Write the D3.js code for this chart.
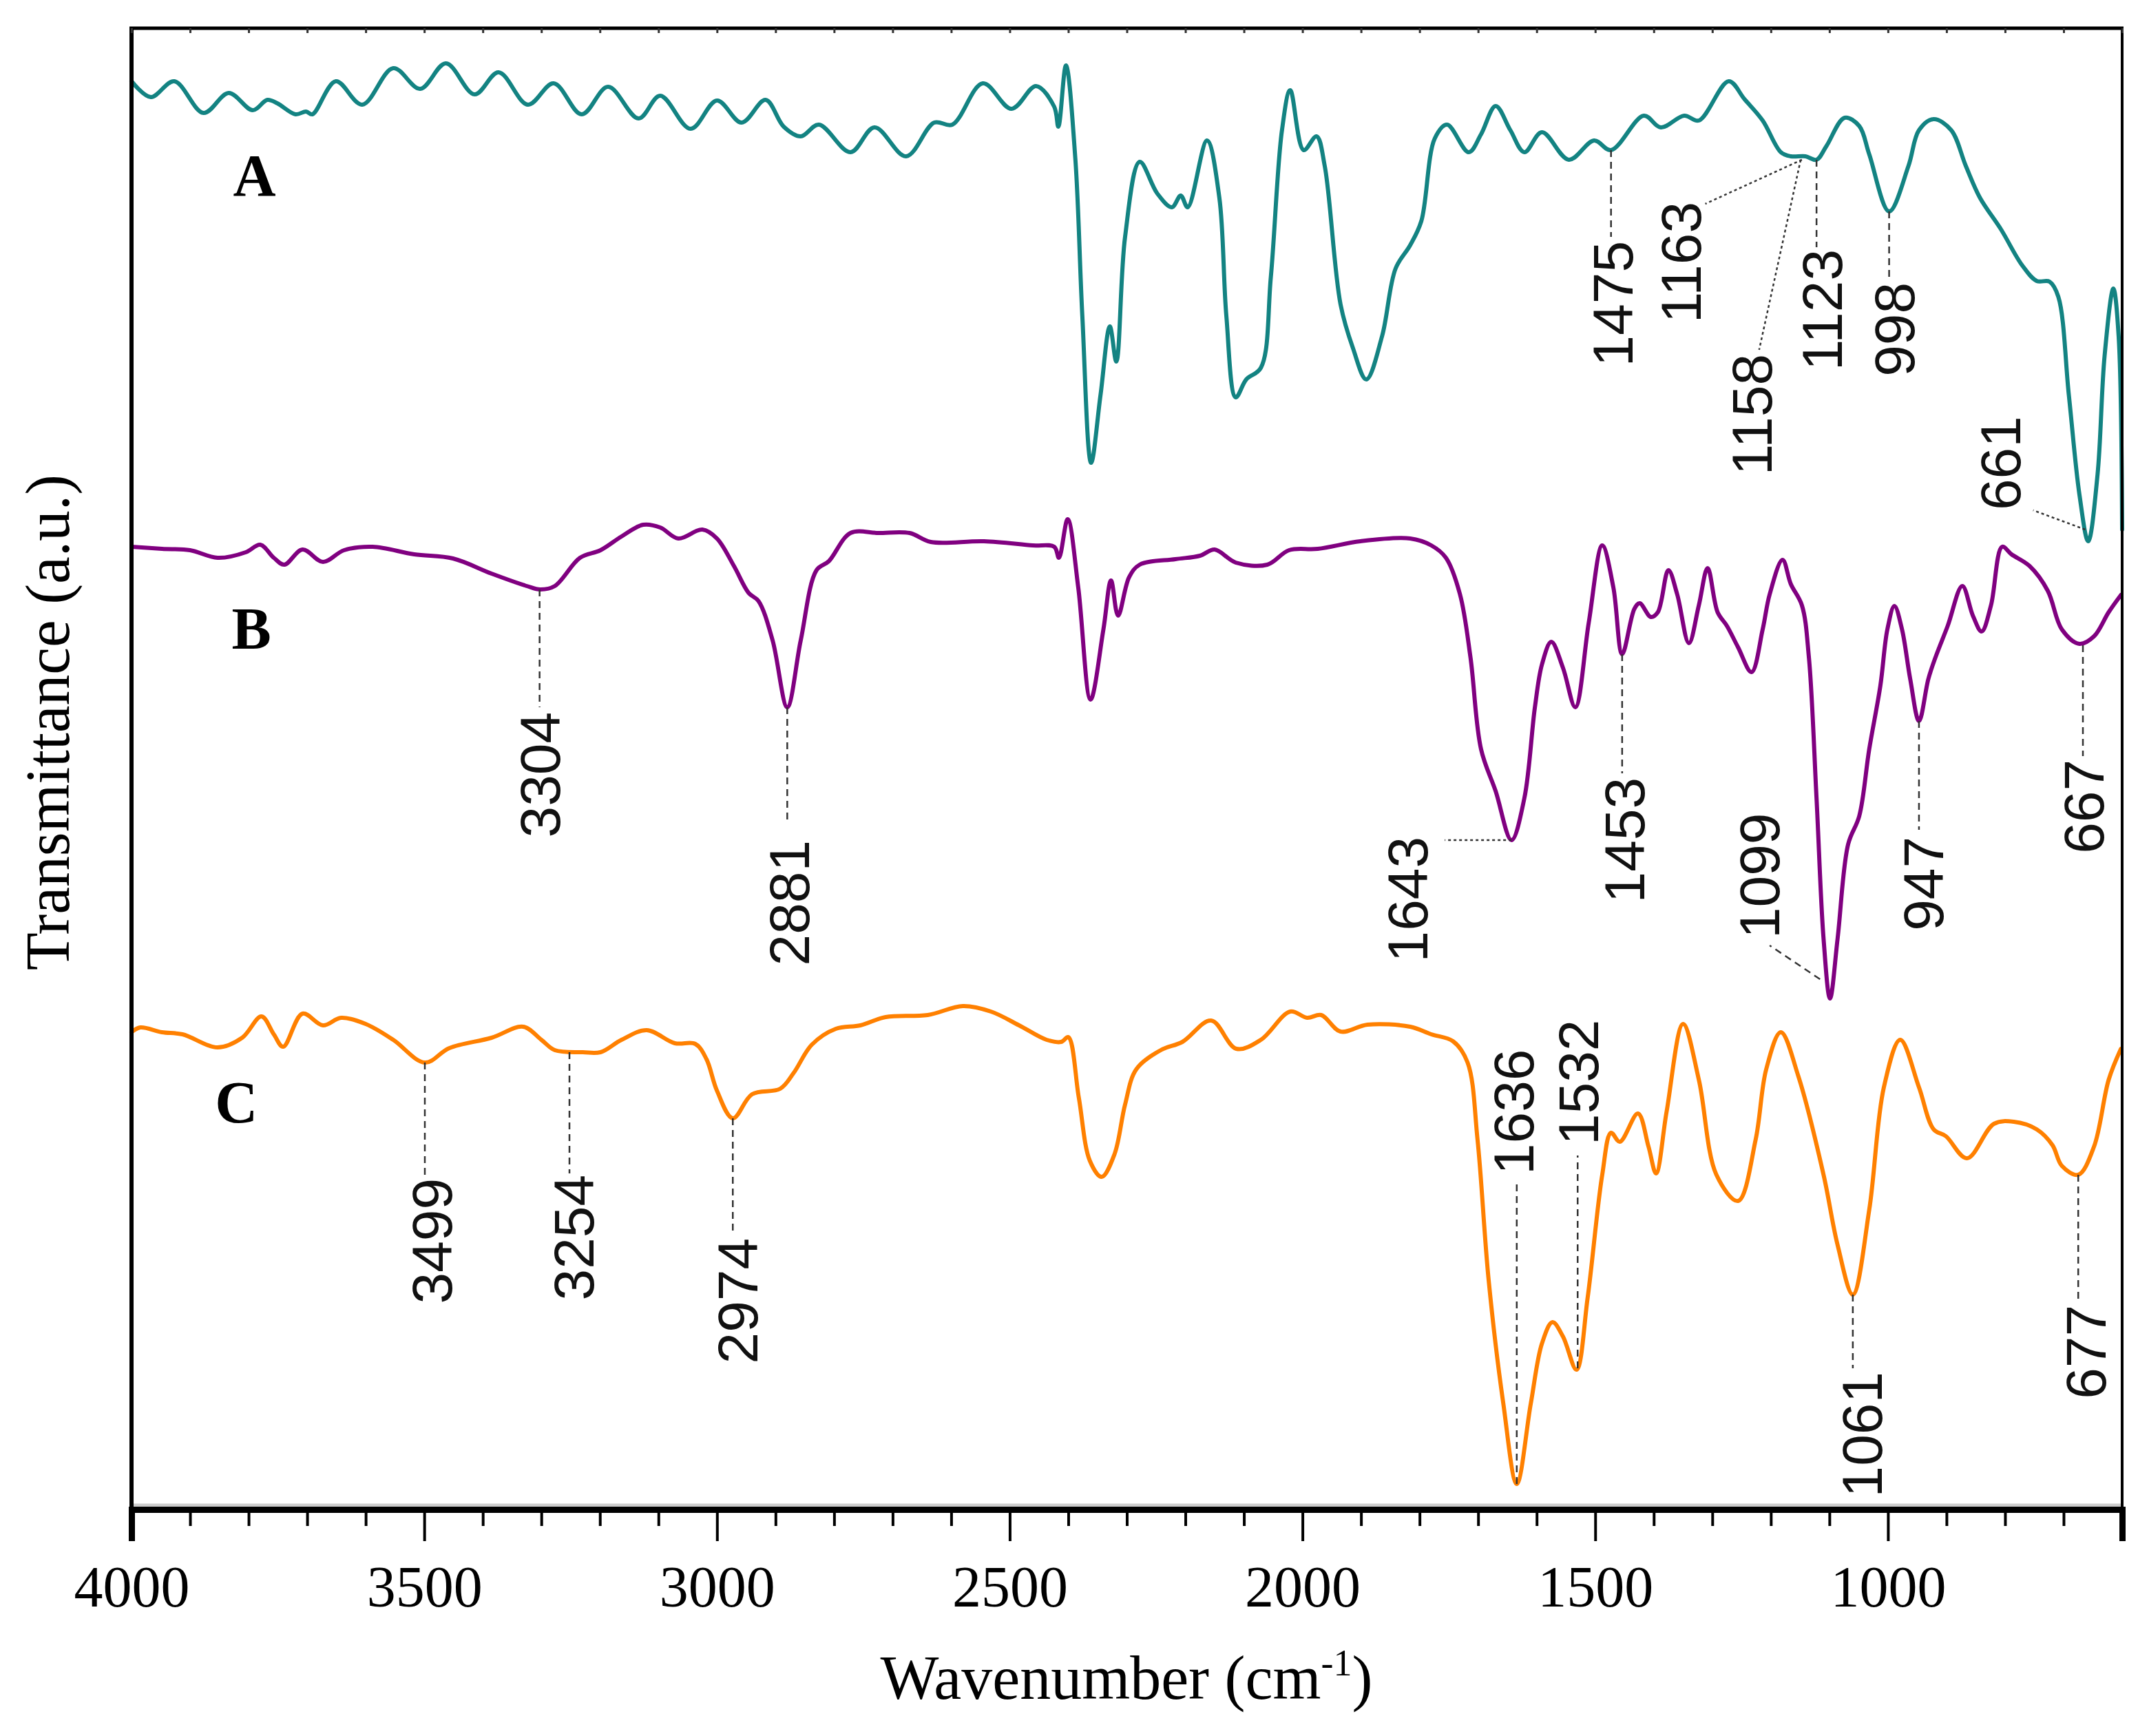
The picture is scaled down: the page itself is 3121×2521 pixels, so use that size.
<!DOCTYPE html>
<html><head><meta charset="utf-8">
<script src="https://cdn.jsdelivr.net/npm/d3@7"></script>
<style>body{margin:0;background:#fff}</style>
</head><body><svg id="chart" width="3121" height="2521"></svg>
<script>
// ---- data (wavenumber, cm-1 ; transmittance, a.u., curves offset) ----
const wnA = [4000,3967,3927,3877,3834,3793,3768,3751,3720,3702,3691,3651,3606,3553,3507,3463,3414,3373,3323,3279,3231,3186,3134,3097,3045,3000,2958,2917,2886,2857,2826,2772,2731,2677,2629,2598,2546,2497,2455,2424,2417,2404,2388,2376,2361,2345,2329,2318,2303,2278,2248,2223,2208,2196,2163,2142,2130,2114,2096,2071,2054,2035,2021,1998,1976,1962,1935,1914,1891,1864,1841,1816,1797,1774,1753,1716,1695,1670,1645,1621,1591,1545,1502,1473,1417,1388,1348,1323,1272,1245,1214,1183,1166,1141,1122,1105,1074,1049,1032,998,965,947,922,892,867,843,807,771,746,724,709,691,673,658,642,630,615,606,600];
const tA = [207.4,205.1,207.4,202.8,205.7,203.2,204.7,204.2,202.6,203.0,202.6,207.4,204.0,209.3,206.3,210.0,205.5,208.7,204.0,207.1,202.6,206.6,202.0,205.3,200.5,204.6,201.4,204.7,200.8,199.4,201.1,197.1,200.7,196.5,201.4,201.1,207.1,203.4,206.7,203.7,200.8,209.7,196.2,173.3,152.0,161.8,171.8,166.7,184.8,195.7,191.1,189.1,190.8,189.1,198.8,190.5,173.3,161.5,164.1,165.8,179.0,200.3,206.1,197.4,199.4,195.1,175.0,168.7,164.1,170.4,180.2,183.6,187.1,199.1,201.1,197.1,199.7,203.8,200.3,197.1,200.0,196.0,198.8,197.4,202.4,200.7,202.4,201.7,207.4,204.8,201.7,197.1,196.5,196.5,196.0,198.0,202.1,200.9,196.8,188.5,195.1,200.3,201.9,200.3,195.1,190.5,185.9,180.7,178.4,178.3,176.1,161.8,147.4,140.6,150.3,167.5,177.3,170.4,142.3];

const wnB = [4000,3948,3900,3853,3805,3780,3757,3739,3708,3673,3637,3588,3517,3451,3385,3325,3302,3277,3234,3199,3163,3126,3097,3066,3025,3000,2971,2946,2929,2905,2880,2857,2830,2809,2772,2724,2671,2635,2544,2461,2424,2416,2401,2383,2362,2340,2327,2315,2296,2278,2217,2175,2150,2114,2060,2023,1974,1901,1816,1780,1755,1731,1713,1695,1670,1643,1621,1603,1591,1575,1555,1534,1511,1488,1469,1454,1433,1424,1405,1393,1375,1360,1340,1323,1308,1291,1275,1256,1233,1214,1202,1180,1166,1147,1135,1122,1110,1099,1086,1068,1049,1032,1013,1001,989,976,962,947,931,919,898,873,855,840,824,805,789,758,727,703,673,648,623,602];
const tB = [139.8,139.5,139.3,138.2,139.0,140.1,138.2,137.2,139.4,137.6,139.3,139.8,138.7,138.1,135.9,134.1,133.6,134.1,138.2,139.3,141.3,143.0,142.6,141.0,142.3,141.0,137.0,133.1,131.9,126.2,116.5,126.2,136.4,137.7,141.8,141.8,141.8,140.5,140.6,140.0,139.8,138.2,143.8,133.9,117.6,127.8,134.9,129.8,135.4,137.2,138.0,138.5,139.4,137.5,137.2,139.3,139.5,140.6,141.0,140.0,138.2,132.9,123.7,110.4,104.3,97.2,103.3,116.5,122.7,126.0,122.2,116.5,128.8,140.0,133.9,124.2,130.8,131.6,129.6,130.3,136.4,132.9,125.8,131.3,136.7,130.3,128.3,125.2,121.6,127.8,132.9,137.9,134.4,131.3,123.7,103.3,82.9,74.2,82.9,96.6,100.7,110.4,119.6,127.8,131.2,127.8,120.6,114.5,120.6,123.7,128.3,134.1,129.8,127.5,131.3,139.8,138.7,137.0,133.4,127.8,125.7,126.8,130.3,132.8];

const wnC = [4000,3985,3948,3913,3853,3811,3778,3757,3741,3708,3673,3642,3600,3553,3499,3457,3385,3331,3300,3277,3229,3199,3163,3120,3072,3037,3018,3000,2973,2940,2892,2869,2838,2797,2755,2712,2640,2580,2532,2484,2437,2412,2400,2382,2363,2343,2321,2303,2284,2242,2205,2156,2113,2071,2021,1992,1968,1935,1889,1816,1780,1743,1718,1701,1682,1657,1634,1610,1591,1573,1555,1532,1513,1488,1473,1458,1427,1409,1396,1378,1350,1323,1293,1256,1226,1208,1183,1153,1110,1086,1060,1032,1007,979,947,922,901,865,819,785,746,719,703,675,648,623,602];
const tC = [69.3,70.0,69.3,69.0,67.1,68.5,71.6,69.0,67.2,72.0,70.3,71.4,70.5,68.2,64.9,67.0,68.5,70.1,68.2,66.7,66.4,66.4,68.2,69.6,67.7,67.6,65.4,60.8,56.8,60.3,61.1,63.4,67.5,69.8,70.3,71.5,71.8,73.1,72.3,70.3,68.2,67.9,68.6,59.8,50.6,48.3,51.6,58.8,63.9,66.7,67.9,71.0,66.9,68.2,72.3,71.4,71.8,69.4,70.4,70.1,69.0,68.0,64.9,53.7,33.3,15.4,3.7,15.4,24.1,27.2,25.1,20.3,30.7,48.6,54.7,53.4,57.5,52.7,48.8,57.8,70.5,62.4,48.6,44.8,53.7,63.9,69.3,62.9,48.6,38.4,31.2,43.5,61.3,68.2,61.3,55.2,54.2,51.0,56.0,56.3,55.2,52.9,49.9,48.6,52.7,62.4,66.9];

const seriesNames = ["A","B","C"];
const seriesColors = ["#138382","#800080","#ff8000"];
const majorTicks = [4000,3500,3000,2500,2000,1500,1000];
const minorTicks = d3.range(4000, 599, -100);

// peak annotations (all in data units)
const annotations = [
  {s:"A",label:"1475",x0:1473,y0:197.4,x1:1473,y1:184.8,tx:1471,ty:184.2,anchor:"end",dot:false},
  {s:"A",label:"1163",x0:1147,y0:196.0,x1:1312,y1:189.6,tx:1354,ty:189.9,anchor:"end",dot:true},
  {s:"A",label:"1158",x0:1149,y0:196.0,x1:1220,y1:168.4,tx:1233,ty:167.8,anchor:"end",dot:true},
  {s:"A",label:"1123",x0:1122,y0:196.0,x1:1122,y1:183.3,tx:1113,ty:183.0,anchor:"end",dot:false},
  {s:"A",label:"998",x0:998,y0:188.5,x1:998,y1:178.4,tx:990,ty:178.2,anchor:"end",dot:false},
  {s:"A",label:"661",x0:663,y0:142.3,x1:752,y1:145.1,tx:809,ty:145.1,anchor:"start",dot:true},
  {s:"B",label:"3304",x0:3303,y0:133.6,x1:3303,y1:116.5,tx:3303,ty:115.8,anchor:"end",dot:false},
  {s:"B",label:"2881",x0:2880,y0:116.5,x1:2880,y1:100.0,tx:2878,ty:97.2,anchor:"end",dot:false},
  {s:"B",label:"1643",x0:1643,y0:97.2,x1:1757,y1:97.2,tx:1821,ty:97.7,anchor:"end",dot:true},
  {s:"B",label:"1453",x0:1454,y0:124.2,x1:1454,y1:106.9,tx:1451,ty:106.3,anchor:"end",dot:false},
  {s:"B",label:"1099",x0:1116,y0:77.0,x1:1202,y1:81.9,tx:1220,ty:82.9,anchor:"start",dot:false},
  {s:"B",label:"947",x0:947,y0:114.5,x1:947,y1:98.7,tx:940,ty:97.7,anchor:"end",dot:false},
  {s:"B",label:"667",x0:667,y0:125.5,x1:667,y1:109.4,tx:667,ty:108.9,anchor:"end",dot:false},
  {s:"C",label:"3499",x0:3499,y0:64.9,x1:3499,y1:48.6,tx:3488,ty:48.1,anchor:"end",dot:false},
  {s:"C",label:"3254",x0:3252,y0:66.4,x1:3252,y1:48.8,tx:3246,ty:48.6,anchor:"end",dot:false},
  {s:"C",label:"2974",x0:2973,y0:56.8,x1:2973,y1:39.9,tx:2966,ty:39.4,anchor:"end",dot:false},
  {s:"C",label:"1636",x0:1634,y0:3.7,x1:1634,y1:47.6,tx:1640,ty:48.6,anchor:"start",dot:false},
  {s:"C",label:"1532",x0:1530,y0:20.5,x1:1530,y1:51.4,tx:1530,ty:52.9,anchor:"start",dot:false},
  {s:"C",label:"1061",x0:1060,y0:31.2,x1:1060,y1:20.5,tx:1045,ty:20.0,anchor:"end",dot:false},
  {s:"C",label:"677",x0:675,y0:48.6,x1:675,y1:30.2,tx:663,ty:29.7,anchor:"end",dot:false}
];
// series letter positions (data units)
const letterPos = [{s:"A",wn:3790,t:190.8},{s:"B",wn:3795,t:125.0},{s:"C",wn:3821,t:56.2}];

// ---- layout ----
const L = 191, R = 3082, T = 41, B = 2192;
const x = d3.scaleLinear().domain([4000, 600]).range([L, R]);
const y = d3.scaleLinear().domain([0, 215.1]).range([B, T]);
const svg = d3.select("#chart");

// curves
const series = [[wnA,tA],[wnB,tB],[wnC,tC]];
const line = d3.line().x(d => x(d[0])).y(d => y(d[1])).curve(d3.curveCatmullRom.alpha(0.5));
series.forEach(([w,t],i) => {
  svg.append("path").datum(w.map((v,k)=>[v,t[k]]))
    .attr("d", line).attr("fill","none")
    .attr("stroke", seriesColors[i]).attr("stroke-width",6)
    .attr("stroke-linejoin","round").attr("stroke-linecap","round");
});

// annotations
const ag = svg.append("g");
annotations.forEach(a => {
  ag.append("line").attr("x1",x(a.x0)).attr("y1",y(a.y0)).attr("x2",x(a.x1)).attr("y2",y(a.y1))
    .attr("stroke","#333").attr("stroke-width",2.5)
    .attr("stroke-dasharray", a.dot ? "4,4" : "10,7");
  ag.append("text").attr("transform",`translate(${x(a.tx)},${y(a.ty)}) rotate(-90)`)
    .attr("text-anchor",a.anchor).attr("dy","0.36em")
    .attr("font-family","'Liberation Sans', Arial, sans-serif").attr("font-size",82)
    .attr("fill","#111").text(a.label);
});

// series letters
letterPos.forEach(p => {
  svg.append("text").attr("x",x(p.wn)).attr("y",y(p.t)).attr("text-anchor","middle")
    .attr("font-family","'Liberation Serif', 'Times New Roman', serif").attr("font-weight","bold")
    .attr("font-size",86).attr("fill","#000").text(p.s);
});

// frame
svg.append("line").attr("x1",L).attr("x2",R).attr("y1",B-6).attr("y2",B-6).attr("stroke","#ccc").attr("stroke-width",5);
svg.append("line").attr("x1",L).attr("x2",L).attr("y1",T).attr("y2",B).attr("stroke","#000").attr("stroke-width",6);
svg.append("line").attr("x1",L-3).attr("x2",R+2).attr("y1",T).attr("y2",T).attr("stroke","#000").attr("stroke-width",5);
svg.append("line").attr("x1",R).attr("x2",R).attr("y1",T).attr("y2",B).attr("stroke","#000").attr("stroke-width",4);

// bottom axis
const axB = d3.axisBottom(x).tickValues(majorTicks).tickSize(46).tickPadding(18).tickFormat(d3.format("d"));
const gB = svg.append("g").attr("transform",`translate(0,${B})`).call(axB);
gB.select(".domain").attr("stroke","#000").attr("stroke-width",9);
gB.selectAll(".tick line").attr("stroke","#000").attr("stroke-width",4);
gB.selectAll(".tick text").attr("font-family","'Liberation Serif', 'Times New Roman', serif")
  .attr("font-size",84).attr("fill","#000").attr("dy","0.92em");
const axM = d3.axisBottom(x).tickValues(minorTicks.filter(v=>!majorTicks.includes(v))).tickSize(24).tickFormat("");
const gM = svg.append("g").attr("transform",`translate(0,${B})`).call(axM);
gM.select(".domain").remove();
gM.selectAll(".tick line").attr("stroke","#000").attr("stroke-width",4);
// top inner ticks
const axT = d3.axisBottom(x).tickValues(minorTicks).tickSize(7).tickFormat("");
const gT = svg.append("g").attr("transform",`translate(0,${T})`).call(axT);
gT.select(".domain").remove();
gT.selectAll(".tick line").attr("stroke","#333").attr("stroke-width",3);

// axis titles
const xt = svg.append("text").attr("x",1636).attr("y",2467).attr("text-anchor","middle")
  .attr("font-family","'Liberation Serif', 'Times New Roman', serif").attr("font-size",90).attr("fill","#000");
xt.append("tspan").text("Wavenumber (cm");
xt.append("tspan").attr("font-size",54).attr("dy",-34).text("-1");
xt.append("tspan").attr("dy",34).text(")");

svg.append("text").attr("transform","translate(100,1049) rotate(-90)").attr("text-anchor","middle")
  .attr("font-family","'Liberation Serif', 'Times New Roman', serif").attr("font-size",92)
  .attr("textLength",720).attr("lengthAdjust","spacingAndGlyphs")
  .attr("fill","#000").text("Transmittance (a.u.)");
</script>
</body></html>
